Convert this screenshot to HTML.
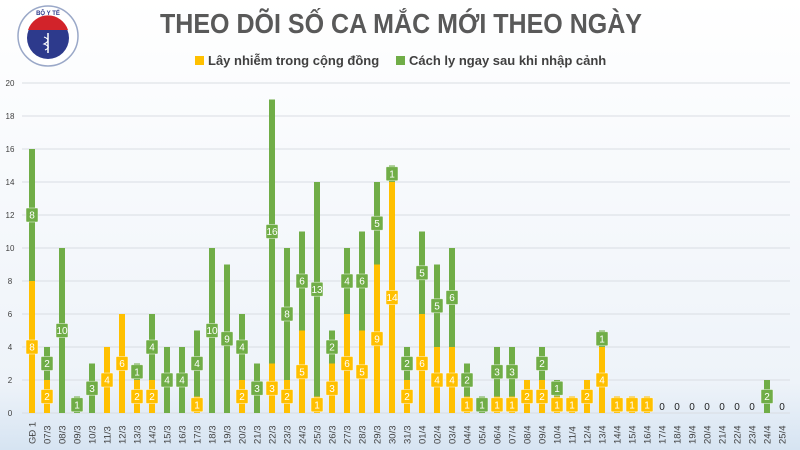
<!DOCTYPE html>
<html><head><meta charset="utf-8"><style>
html,body{margin:0;padding:0;width:800px;height:450px;overflow:hidden;font-family:"Liberation Sans",sans-serif}
</style></head><body>
<svg id="s" width="800" height="450" xmlns="http://www.w3.org/2000/svg" font-family="Liberation Sans, DejaVu Sans, sans-serif">
<defs>
<linearGradient id="bg" x1="0" y1="0" x2="0" y2="1"><stop offset="0" stop-color="#ffffff"/><stop offset="0.85" stop-color="#eef3f9"/><stop offset="1" stop-color="#d6e4f2"/></linearGradient>
</defs>
<rect width="800" height="450" fill="url(#bg)"/>
<g id="logo">
<circle cx="48" cy="36" r="30" fill="#fff" stroke="#9aa8c8" stroke-width="1.5"/>
<circle cx="48" cy="38" r="21" fill="#2d3a8c"/>
<path d="M28 30 A21 21 0 0 1 68 30 Z" fill="#d2232a"/>
<text x="48" y="15" font-size="6" text-anchor="middle" fill="#2d3a8c" font-weight="bold">BỘ Y TẾ</text>
<line x1="48" y1="33" x2="48" y2="53" stroke="#fff" stroke-width="1.5"/>
<path d="M44 37 Q52 40 44 44 Q52 47 45 50" stroke="#fff" fill="none" stroke-width="1.2"/>
</g>
<text x="160" y="33" font-size="28" font-weight="bold" fill="#595959" textLength="482" lengthAdjust="spacingAndGlyphs">THEO DÕI SỐ CA MẮC MỚI THEO NGÀY</text>
<rect x="195" y="56" width="9" height="9" fill="#ffc000"/>
<text x="208" y="65" font-size="13" font-weight="bold" fill="#404040">Lây nhiễm trong cộng đồng</text>
<rect x="396" y="56" width="9" height="9" fill="#70ad47"/>
<text x="409" y="65" font-size="13" font-weight="bold" fill="#404040">Cách ly ngay sau khi nhập cảnh</text>
<g id="g"></g>
</svg>
<script>
var L=["GĐ 1","07/3","08/3","09/3","10/3","11/3","12/3","13/3","14/3","15/3","16/3","17/3","18/3","19/3","20/3","21/3","22/3","23/3","24/3","25/3","26/3","27/3","28/3","29/3","30/3","31/3","01/4","02/4","03/4","04/4","05/4","06/4","07/4","08/4","09/4","10/4","11/4","12/4","13/4","14/4","15/4","16/4","17/4","18/4","19/4","20/4","21/4","22/4","23/4","24/4","25/4"];
var Y=[8,2,0,0,0,4,6,2,2,0,0,1,0,0,2,0,3,2,5,1,3,6,5,9,14,2,6,4,4,1,0,1,1,2,2,1,1,2,4,1,1,1,0,0,0,0,0,0,0,0,0];
var G=[8,2,10,1,3,0,0,1,4,4,4,4,10,9,4,3,16,8,6,13,2,4,6,5,1,2,5,5,6,2,1,3,3,0,2,1,0,0,1,0,0,0,0,0,0,0,0,0,0,2,0];
var s='',y0=413,u=16.5;
for(var k=0;k<=20;k+=2){var y=y0-k*u;s+='<line x1="22" x2="790" y1="'+y+'" y2="'+y+'" stroke="#d9dde3" stroke-width="1"/><text x="10" y="'+(y+3)+'" font-size="8" fill="#404040" text-anchor="middle">'+k+'</text>';}
function lab(x,yc,v,c){return '<rect x="'+(x-6)+'" y="'+(yc-7)+'" width="12" height="14" rx="1" fill="'+c+'" stroke="#fff" stroke-opacity="0.6" stroke-width="0.8"/><text x="'+x+'" y="'+(yc+3.5)+'" font-size="10" fill="#fff" text-anchor="middle">'+v+'</text>';}
for(var i=0;i<L.length;i++){var x=32+i*15;var yy=Y[i],gg=G[i];
 if(yy){s+='<rect x="'+(x-3)+'" y="'+(y0-yy*u)+'" width="6" height="'+(yy*u)+'" fill="#ffc000"/>';}
 if(gg){s+='<rect x="'+(x-3)+'" y="'+(y0-(yy+gg)*u)+'" width="6" height="'+(gg*u)+'" fill="#70ad47"/>';}
 if(yy)s+=lab(x,y0-yy*u/2,yy,'#ffc000');
 if(gg)s+=lab(x,y0-(yy+gg/2)*u,gg,'#70ad47');
 if(!yy&&!gg)s+='<text x="'+x+'" y="'+(y0-3)+'" font-size="10" fill="#222" text-anchor="middle">0</text>';
 s+='<text transform="translate('+(x+3.5)+',444) rotate(-90)" font-size="9.5" fill="#404040">'+L[i]+'</text>';
}
document.getElementById('g').innerHTML=s;
</script>
</body></html>
